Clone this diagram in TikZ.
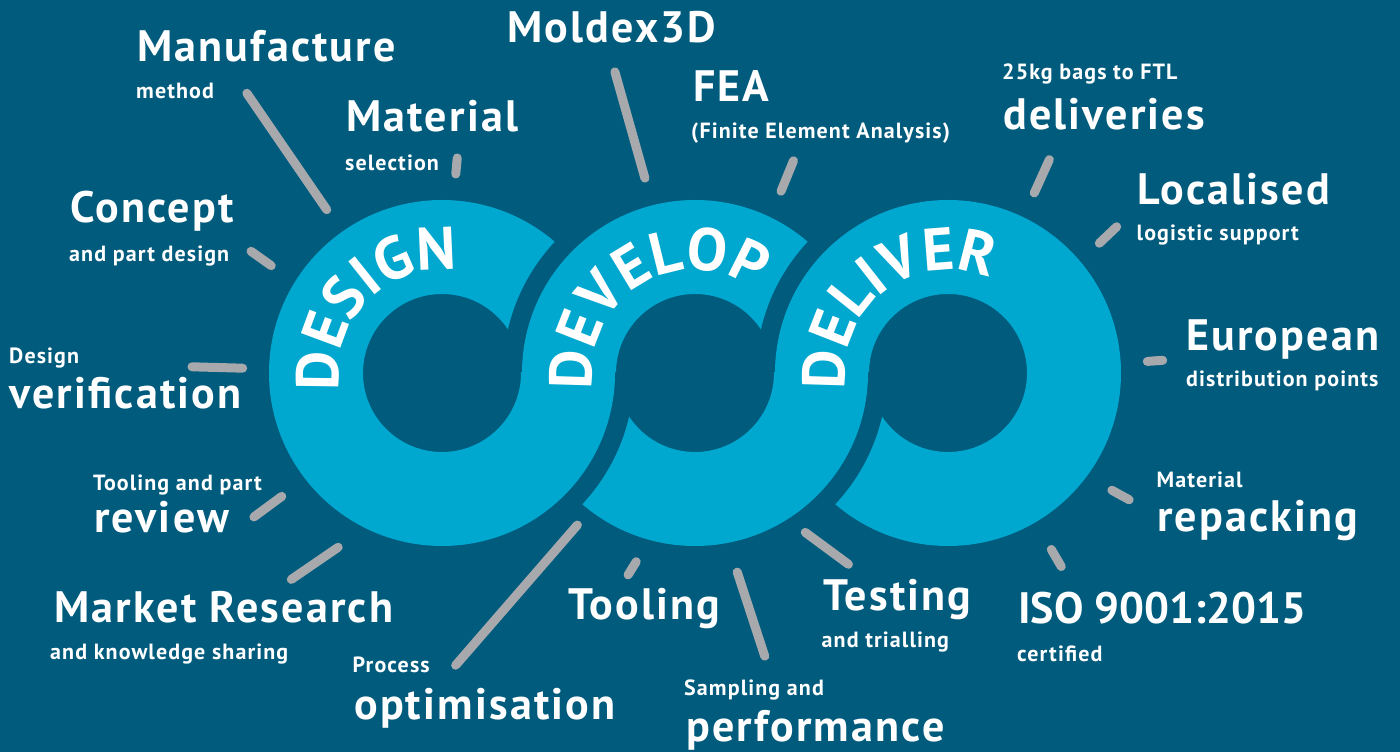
\documentclass[tikz,border=0pt]{standalone}
\usepackage{fontspec}
\setmainfont{PT Sans}
\newfontfamily\labfont{PT Sans}[LetterSpace=5]
\usetikzlibrary{decorations.text,calc}
\definecolor{bgc}{RGB}{0,91,125}
\definecolor{ringc}{RGB}{0,167,207}
\definecolor{tickc}{RGB}{167,169,172}
\newcommand{\ringfont}{\fontsize{60}{60}\selectfont\bfseries}
\begin{document}
\begin{tikzpicture}[x=1pt,y=1pt,
  big/.style={anchor=base west, text=white, font=\labfont\fontsize{44}{44}\selectfont\bfseries, inner sep=0pt},
  small/.style={anchor=base west, text=white, font=\labfont\fontsize{22}{22}\selectfont\bfseries, inner sep=0pt},
  tick/.style={draw=tickc, line width=9pt, line cap=round, shorten <=4pt, shorten >=4pt},
  ringfill/.style={fill=ringc, even odd rule},
  halo/.style={fill=bgc}]
\useasboundingbox (0,0) rectangle (1400,752);
\fill[bgc] (0,0) rectangle (1400,752);
\coordinate (A) at (442,379);
\coordinate (B) at (695,379);
\coordinate (C) at (948,379);
% upper half: right ring lies over left ring
\begin{scope}
  \clip (0,378.5) rectangle (1400,752);
  \foreach \c in {A,B,C}{
    \fill[halo] (\c) circle[radius=192];
    \fill[ringfill] (\c) circle[radius=173] (\c) circle[radius=79];
  }
\end{scope}
% lower half: left ring lies over right ring
\begin{scope}
  \clip (0,0) rectangle (1400,379.5);
  \foreach \c in {C,B,A}{
    \fill[halo] (\c) circle[radius=192];
    \fill[ringfill] (\c) circle[radius=173] (\c) circle[radius=79];
  }
\end{scope}
% ring words
\path[decorate, decoration={text along path, text color=white, text align=fit to path, text={|\ringfont|DESIGN}}]
  ($(A)+(190:103)$) arc[start angle=190, end angle=83, radius=103];
\path[decorate, decoration={text along path, text color=white, text align=fit to path, text={|\ringfont|DEVELOP}}]
  ($(B)+(189:103)$) arc[start angle=189, end angle=60, radius=103];
\path[decorate, decoration={text along path, text color=white, text align=fit to path, text={|\ringfont|DELIVER}}]
  ($(C)+(189:103)$) arc[start angle=189, end angle=70, radius=103];
% ticks
\coordinate (t1a) at (244.6,662);  \coordinate (t1b) at (329,539);
\coordinate (t2a) at (457.6,598);  \coordinate (t2b) at (455.4,574);
\coordinate (t3a) at (247.8,503);  \coordinate (t3b) at (274.5,484);
\coordinate (t4a) at (613.8,684);  \coordinate (t4b) at (646,570);
\coordinate (t5a) at (795,595);    \coordinate (t5b) at (779.5,557);
\coordinate (t6a) at (1051,596);   \coordinate (t6b) at (1032.6,555.3);
\coordinate (t7a) at (1119.6,528); \coordinate (t7b) at (1096.4,506);
\coordinate (t8a) at (188,385.3);  \coordinate (t8b) at (246.7,383.7);
\coordinate (t9a) at (285,258);    \coordinate (t9b) at (250.7,232.7);
\coordinate (t10a) at (341.5,207); \coordinate (t10b) at (288,170.3);
\coordinate (t11a) at (580,230);   \coordinate (t11b) at (453,83.7);
\coordinate (t12a) at (638.3,193.7); \coordinate (t12b) at (626,173.7);
\coordinate (t13a) at (736,183.7); \coordinate (t13b) at (766,92);
\coordinate (t14a) at (802,222);   \coordinate (t14b) at (851.7,185.3);
\coordinate (t15a) at (1143.3,390.3); \coordinate (t15b) at (1166.7,392);
\coordinate (t16a) at (1108.3,263.7); \coordinate (t16b) at (1132.7,250.3);
\coordinate (t17a) at (1049.3,206); \coordinate (t17b) at (1063.3,182);
\foreach \i in {1,...,17}{ \draw[tick] (t\i a) -- (t\i b); }
% big labels
\node[big] (manuf) at (137,690) {Manufacture};
\node[big] (mater) at (346,620) {Material};
\node[big] (conc) at (70,529) {Concept};
\node[big] (mold) at (507,709) {Moldex3D};
\node[big] (fea) at (693,650.5) {FEA};
\node[big] (deliv) at (1003,622) {deliveries};
\node[big] (local) at (1137,547) {Localised};
\node[big] (verif) at (9,343) {verification};
\node[big] (revw) at (94,219) {review};
\node[big] (mkt) at (54,129) {Market Research};
\node[big] (optim) at (354,32) {optimisation};
\node[big] (tool) at (568,132) {Tooling};
\node[big] (test) at (823,141.5) {Testing};
\node[big] (perf) at (686,10) {performance};
\node[big] (euro) at (1186,401.5) {European};
\node[big] (repack) at (1157,220.5) {repacking};
\node[big, font=\fontsize{44}{44}\selectfont\bfseries] (iso) at (1018,128) {ISO 9001:2015};
% small labels
\node[small] (meth) at (136,653) {method};
\node[small] (selec) at (345,581.5) {selection};
\node[small] (partd) at (69,490.5) {and part design};
\node[small] (fin) at (691,613) {(Finite Element Analysis)};
\node[small] (bags) at (1002,672) {25kg bags to FTL};
\node[small] (logis) at (1136.5,511.5) {logistic support};
\node[small] (desg) at (9,388) {Design};
\node[small] (toolp) at (93,261.5) {Tooling and part};
\node[small] (know) at (50,92) {and knowledge sharing};
\node[small] (proc) at (352.5,79) {Process};
\node[small] (trial) at (821.5,104.5) {and trialling};
\node[small] (samp) at (684,56.5) {Sampling and};
\node[small] (distr) at (1186,365.5) {distribution points};
\node[small] (mat2) at (1156.5,264) {Material};
\node[small] (cert) at (1017,90.5) {certified};
\end{tikzpicture}
\end{document}
